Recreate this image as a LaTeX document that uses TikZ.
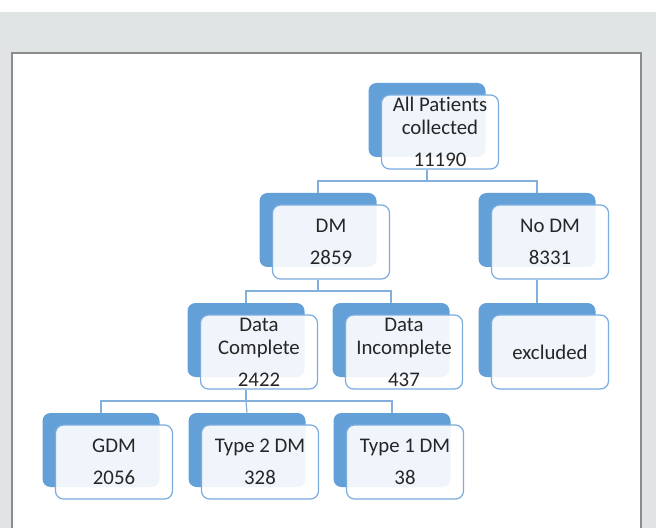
\documentclass[tikz,border=0pt]{standalone}
\usepackage{fontspec}
\setmainfont[Ligatures=NoCommon]{Carlito}
\usepackage{xcolor}

\definecolor{backblue}{RGB}{100,160,216}
\definecolor{frameblue}{RGB}{122,172,222}
\definecolor{linkblue}{RGB}{130,175,220}
\definecolor{pagegray}{RGB}{225,228,229}
\definecolor{textgray}{RGB}{38,38,38}

\begin{document}
\begin{tikzpicture}[x=0.5pt, y=-0.5pt, font=\fontsize{10.4}{11.5}\selectfont,
	back/.style={rectangle, fill=backblue, rounded corners=4pt, minimum width=58.5pt, minimum height=37pt},
	front/.style={rectangle, draw=frameblue, line width=0.6pt, fill=white, fill opacity=0.9, text opacity=1, text=textgray, rounded corners=4pt, minimum width=58.5pt, minimum height=37pt, inner sep=1pt, align=center},
	link/.style={draw=linkblue, line width=0.6pt}]
	\useasboundingbox (0,0) rectangle (656,528);
	\fill[pagegray] (0,12) rectangle (656,528);
	\draw[fill=white, draw=gray!90, line width=0.6pt] (12,53) rectangle (641,540);

	\node[back] (allB) at (427, 120) {};
	\node[back] (dmB) at (318, 230) {};
	\node[back] (nodmB) at (537, 230) {};
	\node[back] (compB) at (246, 340) {};
	\node[back] (incompB) at (391, 340) {};
	\node[back] (exclB) at (537, 340) {};
	\node[back] (gdmB) at (101, 450) {};
	\node[back] (ttwoB) at (247, 450) {};
	\node[back] (toneB) at (392, 450) {};

	\node[front] (all) at (440, 132) {All Patients\\collected\\[4.5pt]11190};
	\node[front] (dm) at (331, 242) {DM\\[4.5pt]2859};
	\node[front] (nodm) at (550, 242) {No DM\\[4.5pt]8331};
	\node[front] (comp) at (259, 352) {Data\\Complete\\[4.5pt]2422};
	\node[front] (incomp) at (404, 352) {Data\\Incomplete\\[4.5pt]437};
	\node[front] (excl) at (550, 352) {excluded};
	\node[front] (gdm) at (114, 462) {GDM\\[4.5pt]2056};
	\node[front] (ttwo) at (260, 462) {Type 2 DM\\[4.5pt]328};
	\node[front] (tone) at (405, 462) {Type 1 DM\\[4.5pt]38};

	\coordinate (j1) at (427, 181);
	\coordinate (j2) at (318, 291);
	\coordinate (j3) at (246, 401);

	\draw[link] (allB.south |- all.south) -- (j1) -| (dmB.north);
	\draw[link] (j1) -| (nodmB.north);
	\draw[link] (dmB.south |- dm.south) -- (j2) -| (compB.north);
	\draw[link] (j2) -| (incompB.north);
	\draw[link] (nodmB.south |- nodm.south) -- (exclB.north);
	\draw[link] (compB.south |- comp.south) -- (j3) -| (gdmB.north);
	\draw[link] (j3) -- (ttwoB.north);
	\draw[link] (j3) -| (toneB.north);
\end{tikzpicture}
\end{document}
